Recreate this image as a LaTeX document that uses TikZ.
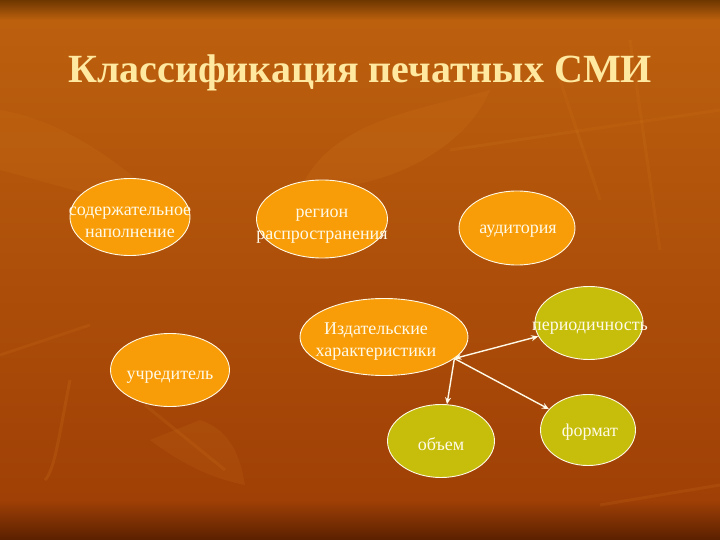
\documentclass[tikz,border=0pt]{standalone}
\usepackage{fontspec}
\setmainfont{Liberation Serif}
\usetikzlibrary{shapes.geometric,arrows.meta}
\definecolor{bgtop}{RGB}{110,55,0}
\definecolor{bgA}{RGB}{188,96,14}
\definecolor{bgC}{RGB}{160,64,6}
\definecolor{bgbot}{RGB}{90,32,0}
\definecolor{orangefill}{RGB}{248,156,8}
\definecolor{olivefill}{RGB}{198,190,10}
\definecolor{creamtext}{RGB}{255,250,232}
\definecolor{titlecol}{RGB}{255,232,160}
\definecolor{leaf}{RGB}{230,140,40}
\tikzset{
  ell/.style={ellipse, draw=creamtext, line width=0.9pt, inner sep=0pt},
  orangeell/.style={ell, fill=orangefill},
  oliveell/.style={ell, fill=olivefill},
  lbl/.style={align=center, inner sep=0pt, text=creamtext, font=\fontsize{18}{22}\selectfont},
  conn/.style={draw=creamtext, line width=1.4pt, -{Stealth[length=7pt,width=6pt]}}
}
\begin{document}
\begin{tikzpicture}[x=1pt,y=-1pt]
\useasboundingbox (0,0) rectangle (720,540);
\shade[top color=bgA, bottom color=bgC] (0,20) rectangle (720,500);
\shade[top color=bgtop, bottom color=bgA] (0,0) rectangle (720,20);
\shade[top color=bgC, bottom color=bgbot] (0,500) rectangle (720,540);
% faint leaf pattern
\begin{scope}[fill=leaf, draw=leaf]
\fill[opacity=0.12] (300,190) .. controls (330,120) and (420,110) .. (490,90) .. controls (470,140) and (400,190) .. (300,190) -- cycle;
\fill[opacity=0.10] (0,110) .. controls (60,120) and (120,160) .. (170,210) .. controls (100,200) and (40,180) .. (0,170) -- cycle;
\fill[opacity=0.10] (150,440) .. controls (190,470) and (220,480) .. (245,485) .. controls (240,455) and (230,430) .. (200,420) -- cycle;
\draw[opacity=0.15, line width=3pt] (70,380) .. controls (60,430) and (55,470) .. (45,480);
\draw[opacity=0.12, line width=3pt] (145,405) -- (225,470);
\draw[opacity=0.12, line width=3pt] (600,505) -- (720,485);
\draw[opacity=0.12, line width=3pt] (0,355) -- (90,325);
\draw[opacity=0.10, line width=3pt] (560,80) -- (600,200);
\draw[opacity=0.10, line width=3pt] (450,150) -- (720,110);
\draw[opacity=0.10, line width=3pt] (630,40) -- (660,250);
\end{scope}
% title
\node[text=titlecol, font=\fontsize{40}{46}\selectfont\bfseries] (title) at (360,73) {Классификация печатных СМИ};
% ellipses
\node[orangeell, minimum width=120pt, minimum height=77pt] (sod) at (130,217) {};
\node[orangeell, minimum width=131pt, minimum height=78pt] (reg) at (322,219) {};
\node[orangeell, minimum width=116pt, minimum height=74pt] (aud) at (517,228) {};
\node[orangeell, minimum width=168pt, minimum height=77pt] (izd) at (384,337) {};
\node[orangeell, minimum width=119pt, minimum height=73pt] (ucr) at (170,370) {};
\node[oliveell, minimum width=108pt, minimum height=73pt] (per) at (589,323) {};
\node[oliveell, minimum width=107pt, minimum height=73pt] (obj) at (441,441) {};
\node[oliveell, minimum width=95pt, minimum height=71pt] (fmt) at (588,430) {};
% labels
\node[lbl] (sodt) at (130,222) {содержательное\\наполнение};
\node[lbl] (regt) at (322,226) {регион\\распространения};
\node[lbl] (audt) at (518,231) {аудитория};
\node[lbl] (izdt) at (376,342) {Издательские\\характеристики};
\node[lbl] (ucrt) at (170,377) {учредитель};
\node[lbl] (pert) at (590,328) {периодичность};
\node[lbl] (objt) at (441,444) {объем};
\node[lbl] (fmtt) at (590,432) {формат};
% connectors
\coordinate (hub) at (izd.-17);
\draw[conn, {Stealth[length=7pt,width=6pt]}-{Stealth[length=7pt,width=6pt]}] (hub) -- (per);
\draw[conn] (hub) -- (obj);
\draw[conn] (hub) -- (fmt);
\end{tikzpicture}
\end{document}
